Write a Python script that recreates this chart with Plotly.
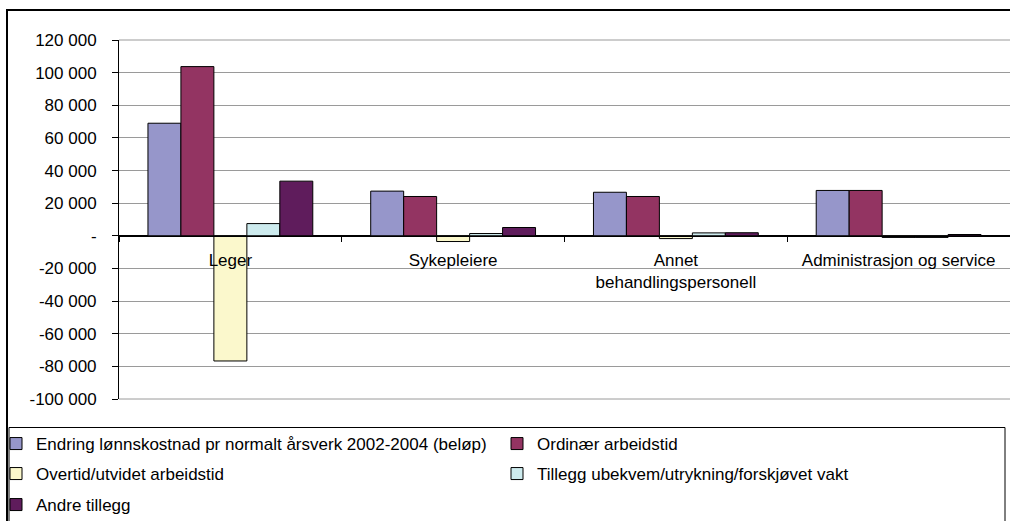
import plotly.graph_objects as go

categories = ["Leger", "Sykepleiere", "Annet<br>behandlingspersonell", "Administrasjon og service"]
series_names = [
    "Endring lønnskostnad pr normalt årsverk 2002-2004 (beløp)",
    "Ordinær arbeidstid",
    "Overtid/utvidet arbeidstid",
    "Tillegg ubekvem/utrykning/forskjøvet vakt",
    "Andre tillegg",
]
endring = [69000, 27400, 26700, 27800]
ordinaer = [103700, 24100, 24100, 27800]
overtid = [-76700, -3500, -1700, -1000]
tillegg = [7500, 1400, 1800, -1000]
andre = [33500, 5100, 1900, 800]
series_values = [endring, ordinaer, overtid, tillegg, andre]
colors = ["#9696CA", "#933462", "#FBF8CC", "#CDEBEE", "#5F1C5C"]

y_range = [-100000, 120000]
y_tickvals = [120000, 100000, 80000, 60000, 40000, 20000, 0, -20000, -40000, -60000, -80000, -100000]
y_ticktext = ["120 000", "100 000", "80 000", "60 000", "40 000", "20 000", "-",
              "-20 000", "-40 000", "-60 000", "-80 000", "-100 000"]

FONT = "Liberation Sans, Arial, sans-serif"
W, H = 1010, 521
ML, MR, MT, MB = 119, 0, 40, 122
PW = W - ML - MR
PH = H - MT - MB
GRID = "#9a9a9a"


def px_x(px):
    return (px - ML) / PW


def px_y(py):
    return (H - MB - py) / PH


legend_ids = ["legend", "legend2", "legend3", "legend4", "legend5"]

fig = go.Figure()
for name, vals, col, lid in zip(series_names, series_values, colors, legend_ids):
    fig.add_trace(go.Bar(
        x=categories, y=vals, name=name,
        marker=dict(color=col, line=dict(color="black", width=1)),
        legend=lid,
    ))

# legend positions (px of legend left / row center)
leg_pos = {
    "legend": (-4, 444),
    "legend2": (497, 444),
    "legend3": (-4, 474),
    "legend4": (497, 474),
    "legend5": (-4, 505),
}
leg_layout = {}
for lid, (lx, ly) in leg_pos.items():
    leg_layout[lid] = dict(
        x=px_x(lx), y=px_y(ly), xanchor="left", yanchor="middle",
        orientation="h", bgcolor="rgba(0,0,0,0)",
        font=dict(family=FONT, size=17, color="black"),
    )

shapes = [
    # gridlines at the plot's top and bottom edges (plotly drops these)
    dict(type="line", xref="paper", yref="paper", x0=0, x1=1, y0=0, y1=0,
         line=dict(color=GRID, width=1), layer="below"),
    dict(type="line", xref="paper", yref="paper", x0=0, x1=1, y0=1, y1=1,
         line=dict(color=GRID, width=1), layer="below"),
    # chart outer border
    dict(type="rect", xref="paper", yref="paper",
         x0=px_x(7), x1=px_x(1014), y0=px_y(530), y1=px_y(10),
         line=dict(color="black", width=2), fillcolor="rgba(0,0,0,0)", layer="above"),
    # legend box
    dict(type="rect", xref="paper", yref="paper",
         x0=px_x(9), x1=px_x(1005), y0=px_y(530), y1=px_y(427.5),
         line=dict(color="black", width=1), fillcolor="rgba(0,0,0,0)", layer="above"),
]

fig.update_layout(
    width=W, height=H,
    margin=dict(l=ML, r=MR, t=MT, b=MB, autoexpand=False),
    paper_bgcolor="white", plot_bgcolor="white",
    font=dict(family=FONT, size=17, color="black"),
    barmode="group", bargap=0.26, bargroupgap=0,
    showlegend=True,
    **leg_layout,
    xaxis=dict(
        type="category", anchor="free", position=-y_range[0] / (y_range[1] - y_range[0]),
        showline=True, linecolor="black", linewidth=1,
        ticks="outside", tickson="boundaries", ticklen=5, tickcolor="black",
        tickfont=dict(family=FONT, size=17, color="black"),
        ticklabelstandoff=9,
        showgrid=False, zeroline=False,
    ),
    yaxis=dict(
        range=y_range, domain=[0, 1],
        tickvals=y_tickvals, ticktext=y_ticktext,
        showline=True, linecolor="black", linewidth=1,
        ticks="outside", ticklen=6, tickcolor="black",
        tickfont=dict(family=FONT, size=17, color="black"),
        ticklabelstandoff=12,
        showgrid=True, gridcolor=GRID, gridwidth=1,
        zeroline=True, zerolinecolor="black", zerolinewidth=1,
    ),
    shapes=shapes,
)

fig.write_html(
    "out.html",
    config={"displayModeBar": False},
    post_script="document.body.style.margin='0';document.body.style.overflow='hidden';",
)
